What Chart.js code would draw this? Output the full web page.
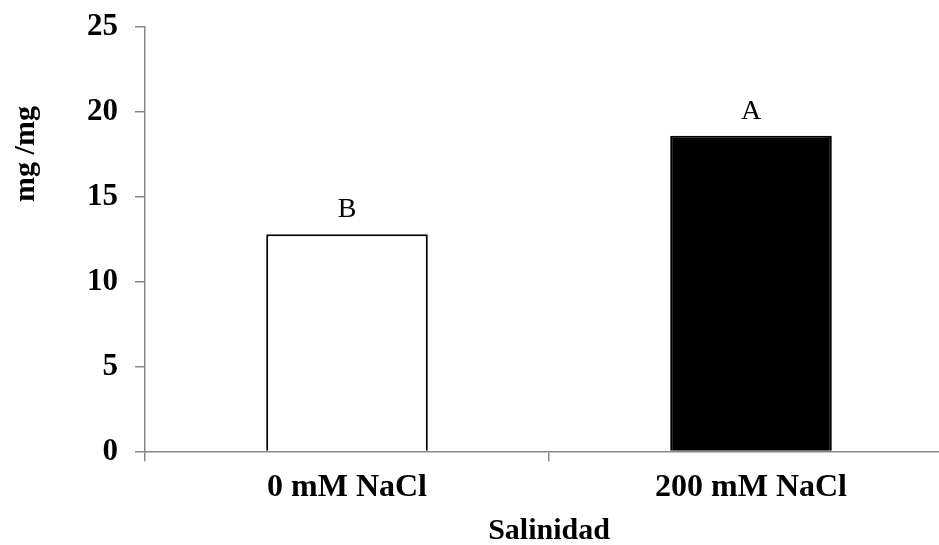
<!DOCTYPE html>
<html>
<head>
<meta charset="utf-8">
<script src="https://cdn.jsdelivr.net/npm/chart.js@4"></script>
<style>
  html, body { margin:0; padding:0; background:#fff; overflow:hidden; }
  #wrap { width:960px; height:545px; }
</style>
</head>
<body>
<div id="wrap"><canvas id="salChart" width="960" height="545"></canvas></div>
<script>
const categorias = ["0 mM NaCl", "200 mM NaCl"];
const valores = [12.8, 18.6];
const letras = ["B", "A"];
const yTicks = [0, 5, 10, 15, 20, 25];

const serif = "'Liberation Serif', 'Times New Roman', serif";
const gris = "#878787";

// letras de significancia encima de cada barra + titulo del eje y
const letrasPlugin = {
  id: "letras",
  afterDatasetsDraw(chart) {
    const ctx = chart.ctx;
    const meta = chart.getDatasetMeta(0);
    ctx.save();
    ctx.fillStyle = "#000";
    ctx.font = "28px " + serif;
    ctx.textAlign = "center";
    ctx.textBaseline = "alphabetic";
    meta.data.forEach((bar, i) => {
      ctx.fillText(letras[i], bar.x, bar.y - 17);
    });
    ctx.restore();

    ctx.save();
    ctx.translate(26, 154);
    ctx.rotate(-Math.PI / 2);
    ctx.fillStyle = "#000";
    ctx.font = "bold 30px " + serif;
    ctx.textAlign = "center";
    ctx.textBaseline = "middle";
    ctx.fillText("mg /mg", 0, 0);
    ctx.restore();
  }
};

new Chart(document.getElementById("salChart"), {
  type: "bar",
  data: {
    labels: categorias,
    datasets: [{
      data: valores,
      backgroundColor: ["#ffffff", "#000000"],
      borderColor: "#000000",
      borderWidth: 2,
      barPercentage: 0.4,
      categoryPercentage: 1
    }]
  },
  options: {
    responsive: false,
    animation: false,
    layout: { padding: { left: 70, right: 7, top: 27, bottom: 0 } },
    plugins: { legend: { display: false }, tooltip: { enabled: false } },
    scales: {
      x: {
        grid: { drawOnChartArea: false, drawTicks: true, tickLength: 10, color: gris, lineWidth: 1.5 },
        border: { color: gris, width: 1.5 },
        ticks: { color: "#000", padding: 7, font: { family: serif, size: 32, weight: "bold" } },
        title: {
          display: true,
          text: "Salinidad",
          color: "#000",
          padding: { top: 4, bottom: 0 },
          font: { family: serif, size: 30, weight: "bold", lineHeight: 0.9 }
        }
      },
      y: {
        min: 0,
        max: 25,
        afterBuildTicks: axis => { axis.ticks = yTicks.map(v => ({ value: v })); },
        grid: { drawOnChartArea: false, drawTicks: true, tickLength: 10, color: gris, lineWidth: 1.5 },
        border: { color: gris, width: 1.5 },
        ticks: { color: "#000", padding: 17, font: { family: serif, size: 31, weight: "bold", lineHeight: 0.6 } }
      }
    }
  },
  plugins: [letrasPlugin]
});
</script>
</body>
</html>
